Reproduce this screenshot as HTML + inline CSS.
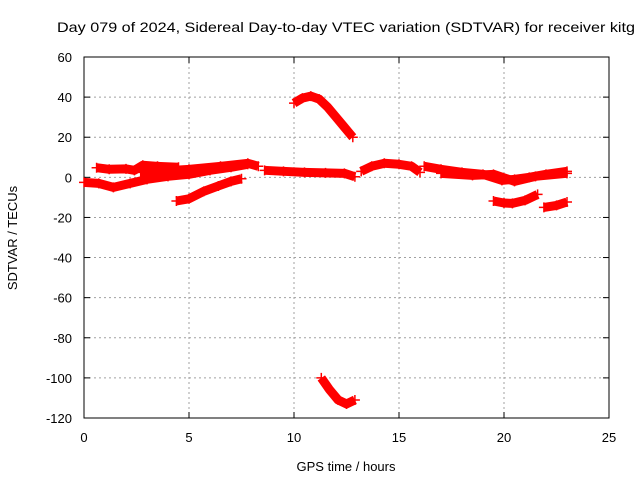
<!DOCTYPE html>
<html><head><meta charset="utf-8"><style>
body{margin:0;background:#fff}
svg text{font-family:"Liberation Sans",sans-serif;font-size:13px;fill:#000}
</style></head><body>
<svg width="640" height="480" xmlns="http://www.w3.org/2000/svg">
<rect width="640" height="480" fill="#fff"/>
<text x="57" y="32" style="font-size:14px" textLength="578" lengthAdjust="spacingAndGlyphs">Day 079 of 2024, Sidereal Day-to-day VTEC variation (SDTVAR) for receiver kitg</text>
<g id="grid"></g>
<g id="axes"></g>
<g id="series"></g>
<text x="346" y="471" text-anchor="middle">GPS time / hours</text>
<text transform="translate(17,238) rotate(-90)" text-anchor="middle">SDTVAR / TECUs</text>
</svg>
<script>
const xTicks=[0,5,10,15,20,25];
const yTicks=[60,40,20,0,-20,-40,-60,-80,-100,-120];
const segArc={t:[10,10.4,10.8,11.2,11.6,12.0,12.4,12.8],v:[37,39.5,40.5,39,35,30,25,20]};
const segLow={t:[11.3,11.7,12.1,12.5,12.9],v:[-100,-106,-111,-113,-111]};
const segC={t:[4.4,5.0,5.7,6.4,7.0,7.5],v:[-11.8,-10.7,-7,-4.3,-2,-0.7]};
const segD={t:[19.5,20.0,20.4,21.0,21.6],v:[-11.8,-12.8,-13,-11.5,-8.5]};
const segE={t:[21.9,22.5,23.0],v:[-15,-14,-12.3]};
const segT1={t:[0,0.7,1.4,2.2,3.0,4.0,5.0,6.0,7.0,7.8],v:[-2.5,-3,-5,-3,-1,0.5,1.5,3.5,5,6.5]};
const segT2={t:[0.6,1.2,2.0,2.4,2.8,3.5,4.5],v:[4.8,4,4.2,3.5,6,5.5,5]};
const segT2b={t:[2.7,3.5,5.0,6.5,7.8,8.3],v:[2.5,3,4,5.5,7,5.5]};
const segT3={t:[8.6,9.5,10.5,11.5,12.4,12.9],v:[3.5,3,2.5,2.2,2,0.3]};
const segT4={t:[13.2,13.7,14.3,15.0,15.6,16.0],v:[3,5.5,7,6.5,5.5,2.5]};
const segT5={t:[16.2,17.0,18.0,19.0,19.9,20.5,21.2,22.0,23.0],v:[5.5,4,2.5,1.5,-1.5,-1,0,1.5,3]};
const segT6={t:[17.0,18.5,19.5,20.5,21.5,23.0],v:[2,1,1.5,-2,0.5,2]};
const X0=84,X1=609,Y0=418,Y1=57;
const sx=t=>X0+(t-0)/(25-0)*(X1-X0);
const sy=v=>Y0-(v+120)/180*(Y0-Y1);
const NS="http://www.w3.org/2000/svg";
function mk(tag,attrs,parent){const e=document.createElementNS(NS,tag);for(const k in attrs)e.setAttribute(k,attrs[k]);parent.appendChild(e);return e;}
const grid=document.getElementById('grid'),axes=document.getElementById('axes'),ser=document.getElementById('series');
xTicks.forEach(t=>{const x=sx(t);
 if(t>0&&t<25){const l=mk('line',{x1:x,y1:Y1,x2:x,y2:Y0,stroke:'#a0a0a0','stroke-dasharray':'2,3'},grid);
 
 }
 mk('line',{x1:x,y1:Y0,x2:x,y2:Y0-6,stroke:'#000'},axes);
 mk('line',{x1:x,y1:Y1,x2:x,y2:Y1+6,stroke:'#000'},axes);
 const tx=mk('text',{x:x,y:Y0+24,'text-anchor':'middle'},axes);tx.textContent=t;
 
 
});
yTicks.forEach(v=>{const y=sy(v);
 if(v>-120&&v<60){const l=mk('line',{x1:X0,y1:y,x2:X1,y2:y,stroke:'#a0a0a0','stroke-dasharray':'2,3'},grid);
 
 }
 mk('line',{x1:X0,y1:y,x2:X0+6,y2:y,stroke:'#000'},axes);
 mk('line',{x1:X1,y1:y,x2:X1-6,y2:y,stroke:'#000'},axes);
 const tx=mk('text',{x:X0-12,y:y+5,'text-anchor':'end'},axes);tx.textContent=v;
 
 
});
mk('rect',{x:X0,y:Y1,width:X1-X0,height:Y0-Y1,fill:'none',stroke:'#000'},axes);
const segs=[segArc,segLow,segC,segD,segE,segT1,segT2,segT2b,segT3,segT4,segT5,segT6];
segs.forEach(s=>{
 const pts=s.t.map((t,i)=>sx(t)+','+sy(s.v[i])).join(' ');
 const p=mk('polyline',{points:pts,fill:'none',stroke:'#ff0000','stroke-width':9,'stroke-linejoin':'round'},ser);
 
 
 s.t.forEach((t,i)=>{const x=sx(t),y=sy(s.v[i]);
  const m=mk('path',{d:`M${x-5},${y}H${x+5}M${x},${y-5}V${y+5}`,stroke:'#ff0000','stroke-width':1.5},ser);
  
  
 });
});
</script>
</body></html>
